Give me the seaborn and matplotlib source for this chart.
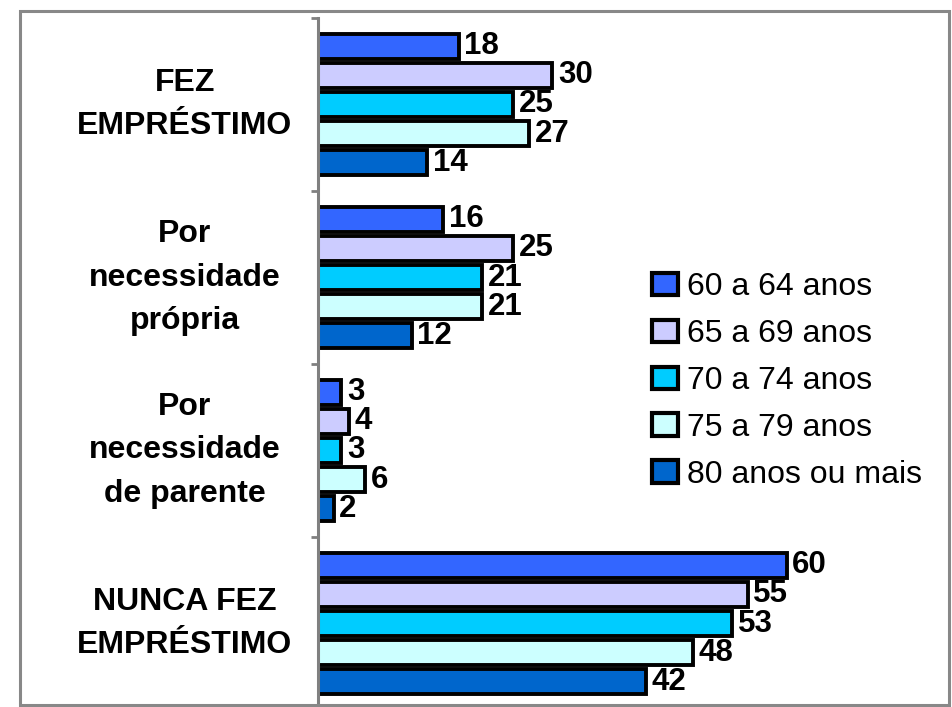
import matplotlib
matplotlib.use("Agg")
import matplotlib.pyplot as plt
import pandas as pd
import seaborn as sns
from matplotlib.patches import Patch, Rectangle

categories = [
    "FEZ\nEMPRÉSTIMO",
    "Por\nnecessidade\nprópria",
    "Por\nnecessidade\nde parente",
    "NUNCA FEZ\nEMPRÉSTIMO",
]
age_groups = ["60 a 64 anos", "65 a 69 anos", "70 a 74 anos", "75 a 79 anos", "80 anos ou mais"]
v_60_64 = [18, 16, 3, 60]
v_65_69 = [30, 25, 4, 55]
v_70_74 = [25, 21, 3, 53]
v_75_79 = [27, 21, 6, 48]
v_80_mais = [14, 12, 2, 42]
colors = ["#3366FF", "#CCCCFF", "#00CCFF", "#CCFFFF", "#0066CC"]

rows = []
for group, values in zip(age_groups, [v_60_64, v_65_69, v_70_74, v_75_79, v_80_mais]):
    for cat, v in zip(categories, values):
        rows.append({"categoria": cat, "idade": group, "valor": v})
df = pd.DataFrame(rows)

sns.set_style("white")
plt.rcParams["font.family"] = ["Liberation Sans", "DejaVu Sans"]
plt.rcParams["text.color"] = "black"
plt.rcParams["ytick.labelcolor"] = "black"

W, H = 952, 707
fig = plt.figure(figsize=(W / 100, H / 100), dpi=100)
ax = fig.add_axes([318 / W, -3 / H, 625 / W, 692 / H])

sns.barplot(
    data=df, x="valor", y="categoria", hue="idade",
    order=categories, hue_order=age_groups, palette=colors,
    orient="h", width=0.84, gap=0.15, saturation=1,
    edgecolor="black", linewidth=2.8, errorbar=None, legend=False, ax=ax,
)

for cont in ax.containers:
    ax.bar_label(cont, padding=4, fontsize=22.5, fontweight="bold", color="black")

ax.set_xlim(0, 80)
ax.set_ylim(3.5, -0.5)
ax.set_xticks([])
ax.set_xlabel("")
ax.set_ylabel("")
for side in ("top", "right", "bottom"):
    ax.spines[side].set_visible(False)
ax.spines["left"].set_color("#808080")
ax.spines["left"].set_linewidth(2.2)

ax.set_yticks(range(len(categories)))
ax.set_yticklabels(categories, fontsize=23, fontweight="bold", color="black")
for lab in ax.get_yticklabels():
    lab.set_horizontalalignment("center")
    lab.set_verticalalignment("center")
    lab.set_linespacing(1.6)
ax.set_yticks([-0.5, 0.5, 1.5, 2.5, 3.5], minor=True)
ax.tick_params(axis="y", which="major", length=0, pad=96)
ax.tick_params(axis="y", which="minor", left=True, length=5, width=2, color="#808080")

handles = [Patch(facecolor=c, edgecolor="black", linewidth=3) for c in colors]
fig.legend(
    handles, age_groups, loc="upper left",
    bbox_to_anchor=(652 / W, 1 - 272 / H), frameon=False, fontsize=23,
    borderpad=0, labelspacing=0.53, handlelength=0.8, handleheight=0.7,
    handletextpad=0.3, borderaxespad=0,
)

fig.add_artist(Rectangle((20 / W, 2 / H), 929 / W, 694 / H, transform=fig.transFigure,
                         fill=False, edgecolor="#888888", linewidth=2.2))

fig.savefig("out.png", dpi=100, facecolor="white")
